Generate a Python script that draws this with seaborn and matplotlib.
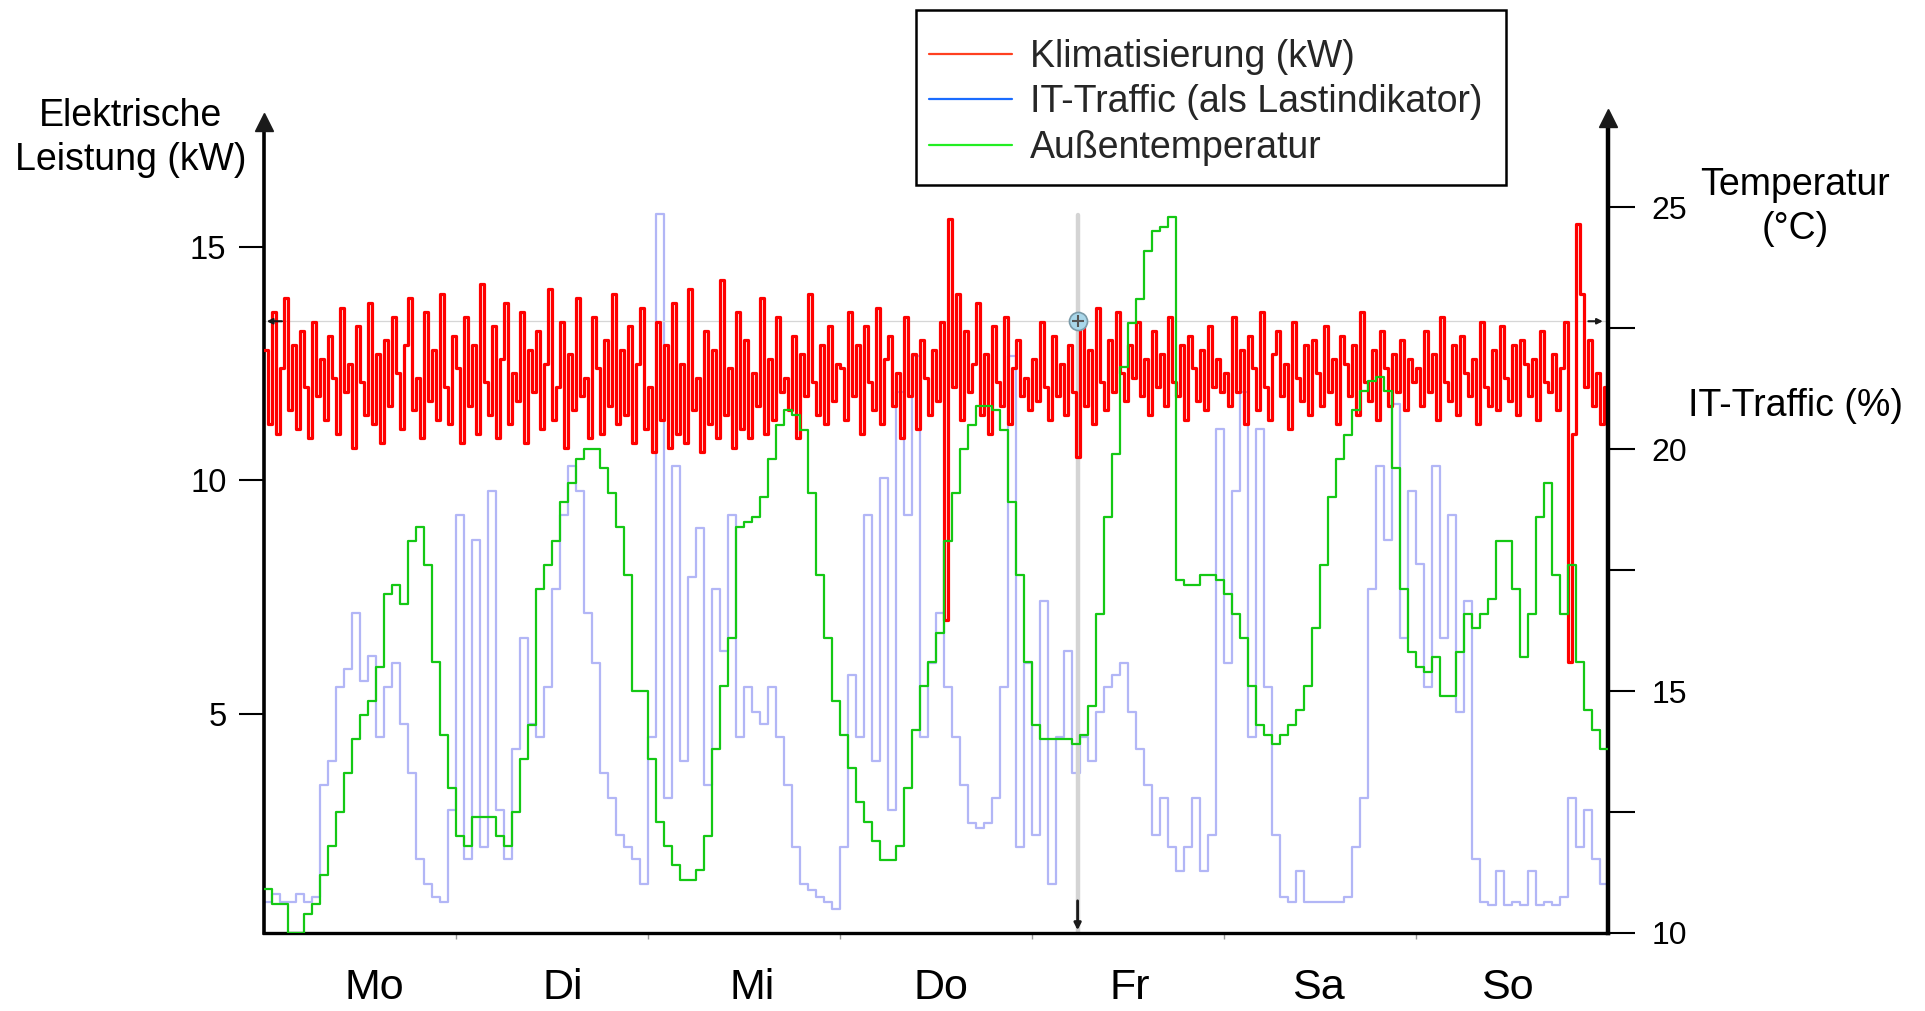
import numpy as np
import matplotlib
matplotlib.use("Agg")
import matplotlib.pyplot as plt
import matplotlib.transforms as mtransforms
from matplotlib.lines import Line2D
from matplotlib.patches import Rectangle
import seaborn as sns

# ---------------- data ----------------
days = ["Mo", "Di", "Mi", "Do", "Fr", "Sa", "So"]
legend_labels = ["Klimatisierung (kW)", "IT-Traffic (als Lastindikator)", "Außentemperatur"]

# Klimatisierung (kW), half-hourly
klima_kw = [
    # Mo
    12.8, 11.2, 13.6, 11.0, 12.4, 13.9, 11.5, 12.9, 11.1, 13.2, 12.0, 10.9, 13.4, 11.8, 12.6, 11.3,
    13.1, 12.2, 11.0, 13.7, 11.9, 12.5, 10.7, 13.3, 12.1, 11.4, 13.8, 11.2, 12.7, 10.8, 13.0, 11.6,
    13.5, 12.3, 11.1, 12.9, 13.9, 11.5, 12.2, 10.9, 13.6, 11.7, 12.8, 11.3, 14.0, 12.0, 11.2, 13.1,
    # Di
    12.4, 10.8, 13.5, 11.6, 12.9, 11.0, 14.2, 12.1, 11.4, 13.3, 10.9, 12.6, 13.8, 11.2, 12.3, 11.7,
    13.6, 10.8, 12.8, 11.9, 13.2, 11.1, 12.5, 14.1, 11.3, 12.0, 13.4, 10.7, 12.7, 11.5, 13.9, 11.8,
    12.2, 10.9, 13.5, 12.4, 11.0, 13.0, 11.6, 14.0, 11.2, 12.8, 11.4, 13.3, 10.8, 12.5, 13.7, 11.1,
    # Mi
    12.0, 10.6, 13.4, 11.3, 12.9, 10.7, 13.8, 11.0, 12.5, 10.8, 14.1, 11.5, 12.2, 10.6, 13.2, 11.2,
    12.8, 10.9, 14.3, 11.4, 12.4, 10.7, 13.6, 11.1, 13.0, 10.9, 12.3, 11.6, 13.9, 11.0, 12.6, 11.3,
    13.5, 11.9, 12.2, 11.5, 13.1, 10.9, 12.7, 11.8, 14.0, 12.1, 11.4, 12.9, 11.2, 13.3, 11.7, 12.5,
    # Do
    12.4, 11.3, 13.6, 11.8, 12.9, 11.0, 13.3, 12.1, 11.5, 13.7, 11.2, 12.6, 13.1, 11.6, 12.3, 10.9,
    13.5, 11.8, 12.7, 11.1, 13.0, 12.2, 11.4, 12.8, 11.7, 13.4, 7.0, 15.6, 12.0, 14.0, 11.3, 13.2,
    11.9, 12.5, 13.8, 11.4, 12.7, 11.0, 13.3, 12.1, 11.6, 13.5, 11.2, 12.4, 13.0, 11.8, 12.2, 11.5,
    # Fr
    12.6, 11.7, 13.4, 12.0, 11.3, 13.1, 11.8, 12.5, 11.4, 12.9, 11.9, 10.5, 13.3, 11.6, 12.8, 11.2,
    13.7, 12.1, 11.5, 13.0, 11.9, 13.6, 12.3, 11.7, 12.9, 12.2, 13.4, 11.8, 12.6, 11.4, 13.2, 12.0,
    12.7, 11.6, 13.5, 12.1, 11.8, 12.9, 11.3, 13.1, 12.4, 11.7, 12.8, 11.5, 13.3, 12.0, 12.6, 11.9,
    # Sa
    12.3, 11.6, 13.5, 11.9, 12.8, 11.2, 13.1, 12.4, 11.5, 13.6, 12.0, 11.3, 12.7, 13.2, 11.8, 12.5,
    11.1, 13.4, 12.2, 11.7, 12.9, 11.4, 13.0, 12.3, 11.6, 13.3, 11.9, 12.6, 11.2, 13.1, 12.5, 11.8,
    12.9, 11.4, 13.6, 12.1, 11.7, 12.8, 11.3, 13.2, 12.4, 11.6, 12.7, 11.9, 13.0, 11.5, 12.6, 12.1,
    # So
    12.4, 11.6, 13.2, 11.9, 12.7, 11.3, 13.5, 12.1, 11.7, 12.9, 11.4, 13.1, 12.3, 11.8, 12.6, 11.2,
    13.4, 12.0, 11.6, 12.8, 11.5, 13.3, 12.2, 11.7, 12.9, 11.4, 13.0, 12.5, 11.8, 12.6, 11.3, 13.2,
    12.1, 11.9, 12.7, 11.5, 12.4, 13.4, 6.1, 11.0, 15.5, 14.0, 12.0, 13.0, 11.6, 12.3, 11.2, 12.0,
]

# IT-Traffic (%), hourly
it_traffic_pct = [
    # Mo
    3.8, 4.8, 3.8, 3.8, 4.8, 3.8, 4.5, 18.2, 21.2, 30.3, 32.6, 39.4, 31.1, 34.1, 24.2, 30.3,
    33.3, 25.8, 19.7, 9.1, 6.1, 4.5, 3.8, 15.2,
    # Di
    51.5, 9.1, 48.5, 10.6, 54.5, 15.2, 9.1, 22.7, 36.4, 25.8, 24.2, 30.3, 42.4, 51.5, 57.6, 54.5,
    39.4, 33.3, 19.7, 16.7, 12.1, 10.6, 9.1, 6.1,
    # Mi
    24.2, 88.6, 16.7, 57.6, 21.2, 43.9, 50.0, 18.2, 42.4, 34.8, 51.5, 24.2, 30.3, 27.3, 25.8, 30.3,
    24.2, 18.2, 10.6, 6.1, 5.3, 4.5, 3.8, 3.0,
    # Do
    10.6, 31.8, 24.2, 51.5, 21.2, 56.1, 15.2, 66.7, 51.5, 71.2, 24.2, 33.3, 39.4, 30.3, 24.2, 18.2,
    13.6, 12.9, 13.6, 16.7, 30.3, 71.2, 10.6, 33.3,
    # Fr
    12.1, 40.9, 6.1, 24.2, 34.8, 19.7, 24.2, 21.2, 27.3, 30.3, 31.8, 33.3, 27.3, 22.7, 18.2, 12.1,
    16.7, 10.6, 7.6, 10.6, 16.7, 7.6, 12.1, 62.1,
    # Sa
    33.3, 54.5, 66.7, 24.2, 62.1, 30.3, 12.1, 4.5, 3.8, 7.6, 3.8, 3.8, 3.8, 3.8, 3.8, 4.5,
    10.6, 16.7, 42.4, 57.6, 48.5, 65.2, 36.4, 54.5,
    # So
    45.5, 30.3, 57.6, 36.4, 51.5, 27.3, 40.9, 9.1, 3.8, 3.5, 7.6, 3.5, 3.8, 3.5, 7.6, 3.5,
    3.8, 3.5, 4.5, 16.7, 10.6, 15.2, 9.1, 6.1,
]

# Außentemperatur (°C), hourly
temp_c = [
    # Mo
    10.9, 10.6, 10.6, 10.0, 10.0, 10.4, 10.6, 11.2, 11.8, 12.5, 13.3, 14.0, 14.5, 14.8, 15.5, 17.0,
    17.2, 16.8, 18.1, 18.4, 17.6, 15.6, 14.1, 13.0,
    # Di
    12.0, 11.8, 12.4, 12.4, 12.4, 12.0, 11.8, 12.5, 13.6, 14.3, 17.1, 17.6, 18.1, 18.9, 19.3, 19.8,
    20.0, 20.0, 19.6, 19.1, 18.4, 17.4, 15.0, 15.0,
    # Mi
    13.6, 12.3, 11.8, 11.4, 11.1, 11.1, 11.3, 12.0, 13.8, 15.1, 16.1, 18.4, 18.5, 18.6, 19.0, 19.8,
    20.5, 20.8, 20.7, 20.4, 19.1, 17.4, 16.1, 14.8,
    # Do
    14.1, 13.4, 12.7, 12.3, 11.9, 11.5, 11.5, 11.8, 13.0, 14.2, 15.1, 15.6, 16.2, 18.1, 19.1, 20.0,
    20.5, 20.9, 20.9, 20.8, 20.4, 18.9, 17.4, 15.6,
    # Fr
    14.3, 14.0, 14.0, 14.0, 14.0, 13.9, 14.1, 14.7, 16.6, 18.6, 19.9, 21.7, 22.6, 23.1, 24.1, 24.5,
    24.6, 24.8, 17.3, 17.2, 17.2, 17.4, 17.4, 17.3,
    # Sa
    17.0, 16.6, 16.1, 15.1, 14.3, 14.1, 13.9, 14.1, 14.3, 14.6, 15.1, 16.3, 17.6, 19.0, 19.8, 20.3,
    20.8, 21.2, 21.4, 21.5, 21.2, 19.6, 17.1, 15.8,
    # So
    15.5, 15.4, 15.7, 14.9, 14.9, 15.8, 16.6, 16.3, 16.6, 16.9, 18.1, 18.1, 17.1, 15.7, 16.6, 18.6,
    19.3, 17.4, 16.6, 17.6, 15.6, 14.6, 14.2, 13.8,
]

left_ticks = [5, 10, 15]
right_ticks = [10, 15, 20, 25]
right_minor = [12.5, 17.5, 22.5]
cursor_hour = 101.7
cursor_kw = 13.41

# ---------------- style ----------------
sns.set_theme(style="white")
plt.rcParams["font.family"] = ["Liberation Sans", "DejaVu Sans"]

W, H = 1925, 1011
fig = plt.figure(figsize=(W / 100, H / 100), dpi=100)
fig.patch.set_facecolor("white")

x0, x1, yb, yt = 264, 1608, 933, 122
rect = [x0 / W, 1 - yb / H, (x1 - x0) / W, (yb - yt) / H]
ax = fig.add_axes(rect)
ax_t = ax.twinx()
ax_it = ax.twinx()

ax_it.set_zorder(0)
ax.set_zorder(1)
ax_t.set_zorder(2)
for a in (ax, ax_t, ax_it):
    a.patch.set_visible(False)
    a.grid(False)

hours_total = 24 * len(days)
ax.set_xlim(0, hours_total)
ax.set_ylim(0.30, 17.68)
ax_t.set_ylim(10, 26.76)
ax_it.set_ylim(0, 100)
ax_it.axis("off")


def step_xy(vals):
    n = len(vals)
    xs = np.arange(n + 1) * hours_total / n
    ys = list(vals) + [vals[-1]]
    return xs, ys


# IT traffic (lavender)
xs, ys = step_xy(it_traffic_pct)
sns.lineplot(x=xs, y=ys, ax=ax_it, drawstyle="steps-post", color="#b2b6f6", lw=1.6,
             estimator=None, sort=False)

# Klimatisierung (red)
xs, ys = step_xy(klima_kw)
sns.lineplot(x=xs, y=ys, ax=ax, drawstyle="steps-post", color="#ff0000", lw=2.3,
             estimator=None, sort=False, zorder=3)

# Temperatur (green)
xs, ys = step_xy(temp_c)
sns.lineplot(x=xs, y=ys, ax=ax_t, drawstyle="steps-post", color="#14c814", lw=1.6,
             estimator=None, sort=False, zorder=4)

# cursor artefacts
ax.axvline(cursor_hour, ymin=0, ymax=(933 - 215) / (933 - 122), color="#d4d4d4", lw=3.2, zorder=2)
ax.axhline(cursor_kw, color="#d6d6d6", lw=0.9, zorder=2)
ax.annotate("", xy=(0.0, cursor_kw), xytext=(2.6, cursor_kw),
            arrowprops=dict(arrowstyle="-|>", color="k", lw=1.5, mutation_scale=8), zorder=5)
ax.annotate("", xy=(hours_total - 0.3, cursor_kw), xytext=(hours_total - 2.8, cursor_kw),
            arrowprops=dict(arrowstyle="-|>", color="k", lw=1.5, mutation_scale=8), zorder=5)
ax.annotate("", xy=(cursor_hour, 0.30), xytext=(cursor_hour, 1.05),
            arrowprops=dict(arrowstyle="-|>", color="k", lw=2, mutation_scale=10), zorder=5)
ax.plot([cursor_hour], [cursor_kw], marker="o", ms=13, mfc="#a9d7ea", mec="#7a9aa8", mew=1.2, zorder=6)
ax.plot([cursor_hour], [cursor_kw], marker="+", ms=9, color="#555555", mew=1.5, zorder=7)

# spines
for s in ("top", "right"):
    ax.spines[s].set_visible(False)
ax.spines["left"].set_linewidth(2.6)
ax.spines["bottom"].set_linewidth(2.4)
ax.spines["left"].set_color("black")
ax.spines["bottom"].set_color("black")
for s in ("top", "left", "bottom"):
    ax_t.spines[s].set_visible(False)
ax_t.spines["right"].set_linewidth(3.2)
ax_t.spines["right"].set_color("black")

# arrow heads on the y axes
ax.plot([0], [1.0], marker="^", ms=13, color="k", transform=ax.transAxes, clip_on=False, zorder=10)
ax_t.plot([1], [1.005], marker="^", ms=13, color="k", transform=ax_t.transAxes, clip_on=False, zorder=10)

# y ticks
ax.set_yticks(left_ticks)
ax.set_yticklabels([str(t) for t in left_ticks])
ax.tick_params(axis="y", direction="out", length=18, width=1.5, labelsize=23.5, pad=9,
               left=True, right=False, colors="black")
ax_t.set_yticks(right_ticks)
ax_t.set_yticks(right_minor, minor=True)
ax_t.set_yticklabels([str(t) for t in right_ticks])
ax_t.tick_params(axis="y", which="both", direction="out", length=19.5, width=1.5,
                 labelsize=23, pad=12, right=True, left=False, colors="black")

# x ticks: day boundaries, labels handled separately
ax.set_xticks(np.arange(24, hours_total, 24))
ax.set_xticklabels([])
ax.tick_params(axis="x", direction="out", length=4, width=1, color="#999999", bottom=True)

trans = mtransforms.blended_transform_factory(ax.transData, fig.transFigure)
for i, d in enumerate(days):
    ax.text(13.8 + i * 23.6, 1 - 999 / H, d, transform=trans, ha="center", va="baseline",
            fontsize=31, color="black")

# axis titles
fig.text(131 / W, 1 - 138 / H, "Elektrische\nLeistung (kW)", ha="center", va="center",
         fontsize=27, linespacing=1.28, color="black")
fig.text(1795 / W, 1 - 207 / H, "Temperatur\n(°C)", ha="center", va="center",
         fontsize=27, linespacing=1.28, color="black")
fig.text(1795 / W, 1 - 406 / H, "IT-Traffic (%)", ha="center", va="center",
         fontsize=27, color="black")

# legend (frame drawn separately)
handles = [Line2D([], [], color="#ff4020", lw=1.6),
           Line2D([], [], color="#1a6cff", lw=1.6),
           Line2D([], [], color="#22ee22", lw=1.6)]
leg = fig.legend(handles, legend_labels, loc="upper left", bbox_to_anchor=(929 / W, 1 - 39 / H),
                 frameon=False, fontsize=27, handlelength=2.2, handletextpad=0.5, borderpad=0,
                 labelspacing=0.25, borderaxespad=0)
fig.patches.append(Rectangle((916 / W, 1 - 185 / H), (1506 - 916) / W, (185 - 10) / H,
                             transform=fig.transFigure, fill=False, edgecolor="black", lw=1.8))

fig.savefig("out.png", dpi=100, facecolor="white")
